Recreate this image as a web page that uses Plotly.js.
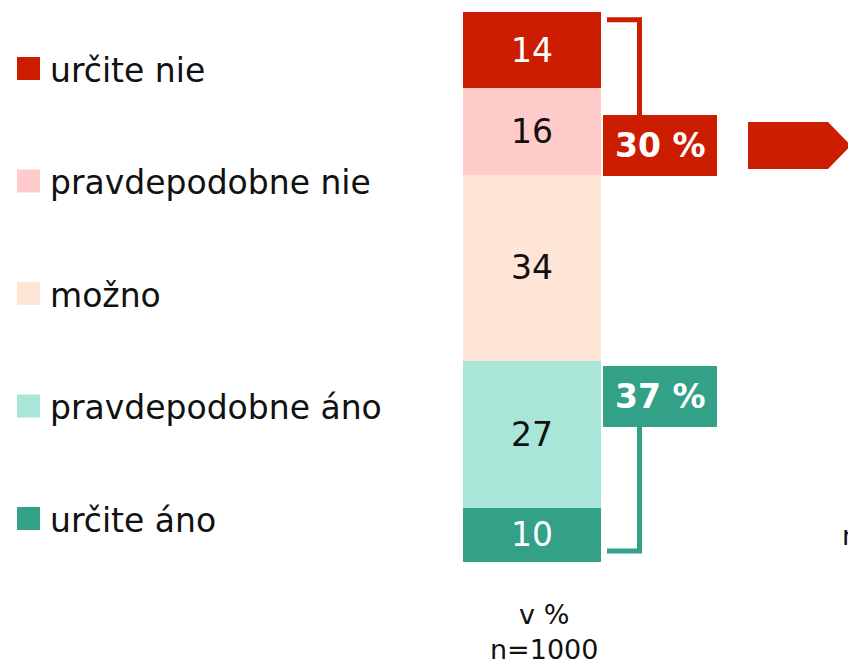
<!DOCTYPE html>
<html>
<head>
<meta charset="utf-8">
<script src="https://cdn.plot.ly/plotly-3.0.1.min.js"></script>
<style>html,body{margin:0;padding:0;background:#fff;}#chart{width:848px;height:665px;}</style>
</head>
<body>
<div id="chart"></div>
<script>
// Data (bottom of the stack first)
const categories = ["určite áno", "pravdepodobne áno", "možno", "pravdepodobne nie", "určite nie"];
const values = [10, 27, 34, 16, 14];
const colors = ["#33a088", "#aae6d8", "#ffe5d6", "#ffcccb", "#cc1d00"];
const textColors = ["#ffffff", "#111111", "#111111", "#111111", "#ffffff"];
const legendOrder = ["určite nie", "pravdepodobne nie", "možno", "pravdepodobne áno", "určite áno"];
const negGroup = ["pravdepodobne nie", "určite nie"];
const posGroup = ["určite áno", "pravdepodobne áno"];
const axisNote = "v %<br>n=1000";
const sideNote = "n=1000";

const FONT = "DejaVu Sans";
const total = values.reduce((a, b) => a + b, 0);
const sumOf = g => g.reduce((s, c) => s + values[categories.indexOf(c)], 0);
const negSum = sumOf(negGroup);
const posSum = sumOf(posGroup);

const traces = categories.map((c, i) => ({
  type: "bar",
  name: c,
  x: [0],
  y: [values[i]],
  width: [1],
  marker: { color: colors[i], line: { width: 0 } },
  text: [String(values[i])],
  textposition: "inside",
  insidetextanchor: "middle",
  textfont: { family: FONT, size: 33, color: textColors[i] },
  hoverinfo: "skip"
}));

const W = 848, H = 665, T = 12, B = 103;
const plotH = H - T - B;
const px = p => p / W;                       // pixel x -> paper x
const pyToV = p => (H - B - p) * total / plotH; // pixel y -> data y

const shapes = [];
const annotations = [];

// Legend (manual, to match large squares and wide spacing)
legendOrder.forEach((c, k) => {
  const cy = 68.5 + k * 112.5;
  const col = colors[categories.indexOf(c)];
  shapes.push({ type: "rect", xref: "paper", yref: "y",
    x0: px(17), x1: px(40), y0: pyToV(cy + 11.5), y1: pyToV(cy - 11.5),
    fillcolor: col, line: { width: 0 } });
  annotations.push({ xref: "paper", yref: "y", x: px(48), y: pyToV(cy + 1.5),
    xanchor: "left", yanchor: "middle", showarrow: false, text: c,
    font: { family: FONT, size: 33, color: "#111111" } });
});

const red = colors[4], green = colors[0];
const bx0 = px(603), bx1 = px(717), lx0 = px(607), lxV = px(639.5);
// Red bracket + box
const rTop = pyToV(19.7), rBoxTop = pyToV(115), rBoxBot = pyToV(176);
shapes.push({ type: "path", xref: "paper", yref: "y",
  path: `M${lx0},${rTop} L${lxV},${rTop} L${lxV},${rBoxTop}`,
  line: { color: red, width: 5 } });
shapes.push({ type: "rect", xref: "paper", yref: "y", x0: bx0, x1: bx1, y0: rBoxBot, y1: rBoxTop,
  fillcolor: red, line: { width: 0 } });
annotations.push({ xref: "paper", yref: "y", x: (bx0 + bx1) / 2, y: (rBoxTop + rBoxBot) / 2,
  xanchor: "center", yanchor: "middle",
  text: "<b>" + negSum + " %</b>", showarrow: false,
  font: { family: FONT, size: 33, color: "#ffffff" } });

// Green bracket + box
const gBot = pyToV(551), gBoxTop = pyToV(366), gBoxBot = pyToV(427);
shapes.push({ type: "path", xref: "paper", yref: "y",
  path: `M${lx0},${gBot} L${lxV},${gBot} L${lxV},${gBoxBot}`,
  line: { color: green, width: 5 } });
shapes.push({ type: "rect", xref: "paper", yref: "y", x0: bx0, x1: bx1, y0: gBoxBot, y1: gBoxTop,
  fillcolor: green, line: { width: 0 } });
annotations.push({ xref: "paper", yref: "y", x: (bx0 + bx1) / 2, y: (gBoxTop + gBoxBot) / 2,
  xanchor: "center", yanchor: "middle",
  text: "<b>" + posSum + " %</b>", showarrow: false,
  font: { family: FONT, size: 33, color: "#ffffff" } });

// Arrow at right edge
const aT = pyToV(122), aB = pyToV(169), aM = pyToV(145.5);
shapes.push({ type: "path", xref: "paper", yref: "y",
  path: `M${px(748)},${aT} L${px(828)},${aT} L${px(851)},${aM} L${px(828)},${aB} L${px(748)},${aB} Z`,
  fillcolor: red, line: { width: 0 } });

// Notes
annotations.push({ xref: "paper", yref: "paper", x: px(544), y: (H - B - 632) / plotH,
  xanchor: "center", yanchor: "middle", showarrow: false, text: axisNote,
  font: { family: FONT, size: 27, color: "#111111" } });
annotations.push({ xref: "paper", yref: "paper", x: px(840), y: (H - B - 535) / plotH,
  xanchor: "left", yanchor: "middle", showarrow: false, text: sideNote,
  font: { family: FONT, size: 27, color: "#111111" } });

const xc = 532, bw = 138;
const layout = {
  width: W, height: H,
  margin: { l: 0, r: 0, t: T, b: B, pad: 0 },
  barmode: "stack",
  showlegend: false,
  paper_bgcolor: "#ffffff",
  plot_bgcolor: "#ffffff",
  xaxis: { range: [-xc / bw, (W - xc) / bw], visible: false, fixedrange: true },
  yaxis: { range: [0, total], visible: false, fixedrange: true },
  shapes: shapes,
  annotations: annotations
};

Plotly.newPlot("chart", traces, layout, { displayModeBar: false, staticPlot: true });
</script>
</body>
</html>
